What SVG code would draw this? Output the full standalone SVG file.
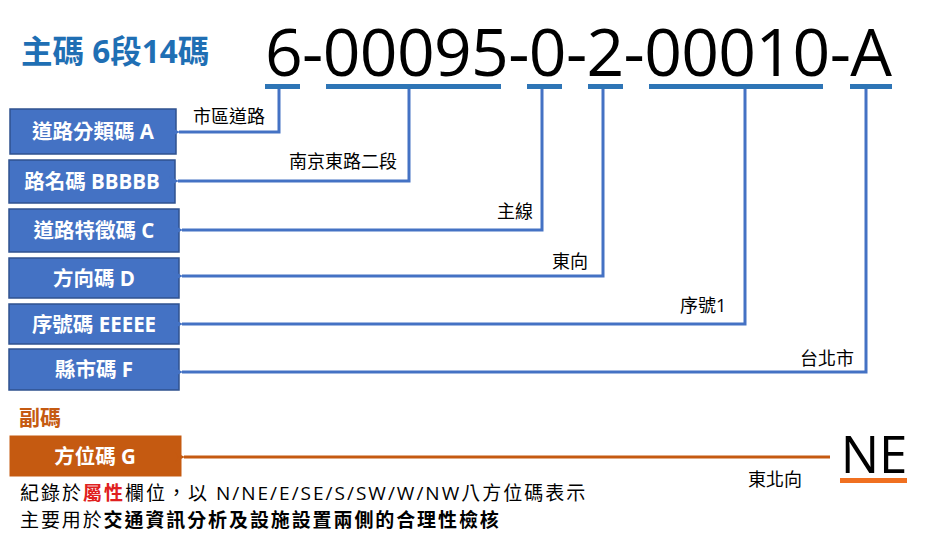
<svg xmlns="http://www.w3.org/2000/svg" width="936" height="544" viewBox="0 0 936 544">
<style>
text{font-family:"Open Sans","Noto Sans CJK TC",sans-serif}
.code{font-size:66px;fill:#000}
.ul{fill:#2e75b6}
.box{fill:#4472c4;stroke:#2f528f;stroke-width:1.5}
.gbox{fill:#c55a11;stroke:#c55a11;stroke-width:1}
.bl{fill:#fff;font-size:20.5px;font-weight:bold;text-anchor:middle}
.lab{font-size:18px;fill:#000}
.conn{fill:none;stroke:#4472c4;stroke-width:3}
.oconn{fill:none;stroke:#c55a11;stroke-width:3}
.note{font-size:19px;fill:#000}
</style>
<defs>
<marker id="ab" viewBox="0 0 10 10" refX="1" refY="5" markerWidth="3.2" markerHeight="3.2" orient="auto-start-reverse"><path d="M0,5 L10,0 L7,5 L10,10 Z" fill="#4472c4"/></marker>
<marker id="ao" viewBox="0 0 10 10" refX="1" refY="5" markerWidth="3.2" markerHeight="3.2" orient="auto-start-reverse"><path d="M0,5 L10,0 L7,5 L10,10 Z" fill="#c55a11"/></marker>
</defs>
<rect width="936" height="544" fill="#fff"/>
<g id="title"><text x="21" y="63" font-size="31.5" font-weight="bold" fill="#1f6fb4">主碼 6段14碼</text></g>
<g id="code">
<text class="code" x="265" y="76" textLength="627" lengthAdjust="spacing">6-00095-0-2-00010-A</text>
<rect class="ul" x="265" y="84" width="35" height="5"/>
<rect class="ul" x="326" y="84" width="175" height="5"/>
<rect class="ul" x="527" y="84" width="35" height="5"/>
<rect class="ul" x="588" y="84" width="35" height="5"/>
<rect class="ul" x="649" y="84" width="174" height="5"/>
<rect class="ul" x="850" y="84" width="42" height="5"/>
</g>
<g id="nodeA"><rect class="box" x="10" y="109" width="166" height="45"/><text class="bl" x="93" y="139">道路分類碼 A</text></g>
<g id="nodeB"><rect class="box" x="9" y="160" width="166" height="43"/><text class="bl" x="92" y="189">路名碼 BBBBB</text></g>
<g id="nodeC"><rect class="box" x="9" y="209" width="170" height="43"/><text class="bl" x="94" y="238">道路特徵碼 C</text></g>
<g id="nodeD"><rect class="box" x="9" y="258" width="170" height="40"/><text class="bl" x="94" y="286">方向碼 D</text></g>
<g id="nodeE"><rect class="box" x="9" y="304" width="170" height="40"/><text class="bl" x="94" y="332">序號碼 EEEEE</text></g>
<g id="nodeF"><rect class="box" x="9" y="349" width="170" height="41"/><text class="bl" x="94" y="377">縣市碼 F</text></g>
<g id="sub"><text x="19" y="425" font-size="21" font-weight="bold" fill="#c55a11">副碼</text></g>
<g id="nodeG"><rect class="gbox" x="10" y="436" width="171" height="40"/><text class="bl" x="95" y="464">方位碼 G</text></g>
<g id="NE"><text x="874" y="473" font-size="51" text-anchor="middle" fill="#000">NE</text><rect x="840" y="478" width="67" height="5" fill="#f07020"/></g>
<g id="connectors">
<path class="conn" d="M279,89 V132 H179" marker-end="url(#ab)"/>
<path class="conn" d="M409,89 V181 H178" marker-end="url(#ab)"/>
<path class="conn" d="M542,89 V230 H182" marker-end="url(#ab)"/>
<path class="conn" d="M603,89 V276 H182" marker-end="url(#ab)"/>
<path class="conn" d="M745,89 V324 H182" marker-end="url(#ab)"/>
<path class="conn" d="M866,89 V372 H182" marker-end="url(#ab)"/>
<path class="oconn" d="M830,457 H184" marker-end="url(#ao)"/>
</g>
<g id="labels">
<text class="lab" x="193" y="123">市區道路</text>
<text class="lab" x="289" y="168">南京東路二段</text>
<text class="lab" x="497" y="218">主線</text>
<text class="lab" x="552" y="268">東向</text>
<text class="lab" x="680" y="312">序號1</text>
<text class="lab" x="800" y="365">台北市</text>
<text class="lab" x="748" y="486">東北向</text>
</g>
<g id="notes">
<text class="note" x="20" y="500" letter-spacing="2">紀錄於<tspan fill="#e02020" font-weight="bold">屬性</tspan>欄位，以 N/NE/E/SE/S/SW/W/NW八方位碼表示</text>
<text class="note" x="20" y="527" letter-spacing="1.9">主要用於<tspan font-weight="bold">交通資訊分析及設施設置兩側的合理性檢核</tspan></text>
</g>
</svg>
